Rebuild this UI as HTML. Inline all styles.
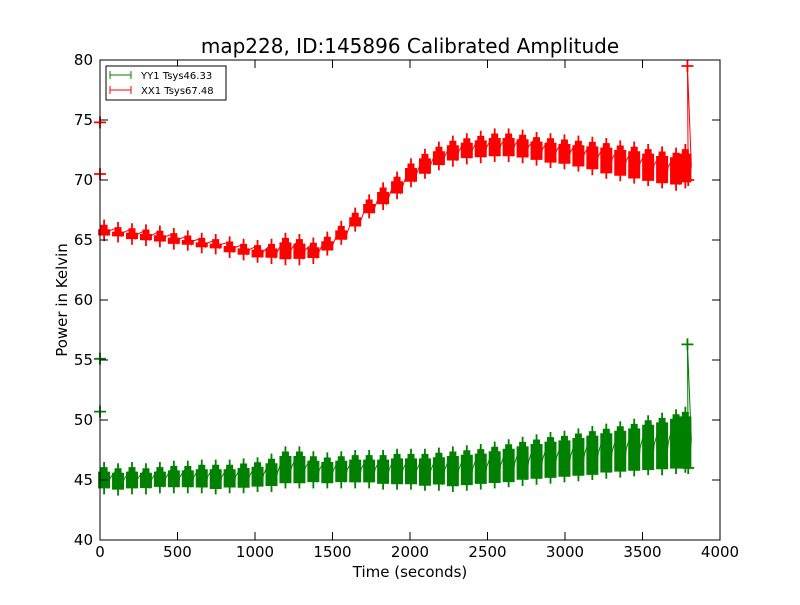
<!DOCTYPE html>
<html><head><meta charset="utf-8"><style>
body{margin:0;background:#fff;}
svg text{font-family:"DejaVu Sans","Liberation Sans",sans-serif;}
</style></head><body>
<svg id="c" width="800" height="600" xmlns="http://www.w3.org/2000/svg">
<rect width="800" height="600" fill="#fff"/>
<text x="410" y="53" font-size="20" text-anchor="middle">map228, ID:145896 Calibrated Amplitude</text>
<g id="plot"></g>
<rect x="100" y="60" width="620" height="480" fill="none" stroke="#000" stroke-width="1"/>
<g id="ticks"></g>
<text x="410" y="577" font-size="15" text-anchor="middle">Time (seconds)</text>
<text transform="translate(67,300) rotate(-90)" font-size="15" text-anchor="middle">Power in Kelvin</text>
<g>
<rect x="106" y="66" width="120" height="34" fill="#fff" stroke="#000" stroke-width="1"/>
<g>
<line x1="110" y1="75" x2="131" y2="75" stroke="#008000"/><line x1="110" y1="71" x2="110" y2="79" stroke="#008000"/><line x1="131" y1="71" x2="131" y2="79" stroke="#008000"/>
<text x="141" y="79" font-size="10">YY1 Tsys46.33</text></g>
<g>
<line x1="110" y1="90" x2="131" y2="90" stroke="#f00"/><line x1="110" y1="86" x2="110" y2="94" stroke="#f00"/><line x1="131" y1="86" x2="131" y2="94" stroke="#f00"/>
<text x="141" y="94" font-size="10">XX1 Tsys67.48</text></g>
</g>
</svg>
<script>
const xTicks=[0,500,1000,1500,2000,2500,3000,3500,4000];
const yTicks=[40,45,50,55,60,65,70,75,80];
const times=[20,110,200,290,380,470,560,650,740,830,920,1010,1100,1190,1280,1370,1460,1550,1640,1730,1820,1910,2000,2090,2180,2270,2360,2450,2540,2630,2720,2810,2900,2990,3080,3170,3260,3350,3440,3530,3620,3710,3770];
const redHi=[66.2,66.0,65.9,65.8,65.7,65.5,65.3,65.1,65.0,64.8,64.6,64.5,64.6,65.1,65.0,64.7,65.2,66.1,67.2,68.3,69.3,70.2,71.3,72.1,72.7,73.2,73.4,73.6,73.8,73.8,73.7,73.5,73.4,73.3,73.2,73.1,73.0,72.8,72.7,72.5,72.3,72.2,72.5];
const redLo=[65.4,65.3,65.1,65.0,64.9,64.7,64.6,64.4,64.3,64.0,63.8,63.6,63.5,63.4,63.4,63.5,64.2,65.1,66.2,67.3,68.0,68.9,69.9,70.6,71.3,71.6,71.8,71.9,72.0,72.0,71.9,71.7,71.5,71.4,71.2,70.9,70.6,70.4,70.2,70.0,69.8,69.6,69.8];
const greenHi=[46.0,45.9,46.0,45.9,46.0,46.1,46.1,46.2,46.2,46.2,46.3,46.4,46.7,47.3,47.3,46.9,46.8,46.9,47.0,47.0,47.0,47.1,47.1,47.1,47.2,47.3,47.4,47.5,47.7,47.9,48.1,48.3,48.5,48.6,48.8,49.0,49.2,49.4,49.6,49.9,50.1,50.4,50.6];
const greenLo=[44.3,44.2,44.3,44.3,44.4,44.4,44.4,44.4,44.3,44.4,44.4,44.5,44.5,44.8,44.8,44.8,44.8,44.8,44.8,44.8,44.7,44.7,44.7,44.6,44.6,44.5,44.6,44.7,44.8,44.9,45.0,45.1,45.2,45.3,45.4,45.5,45.6,45.7,45.8,45.9,45.9,46.0,46.1];
const redExtra=[[0,74.8],[0,70.5],[3790,79.5],[3795,70.0]];
const greenExtra=[[0,55.1],[0,50.7],[3790,56.3],[3795,46.0]];
const NS="http://www.w3.org/2000/svg";
const X=t=>100+t/4000*620, Y=v=>540-(v-40)/40*480;
const plot=document.getElementById('plot'), ticks=document.getElementById('ticks');
function mk(tag,attrs,parent){const e=document.createElementNS(NS,tag);for(const k in attrs)e.setAttribute(k,attrs[k]);parent.appendChild(e);return e;}
xTicks.forEach(t=>{const x=X(t);
 mk('line',{x1:x,y1:540,x2:x,y2:532,stroke:'#000'},ticks);mk('line',{x1:x,y1:60,x2:x,y2:68,stroke:'#000'},ticks);
 const tx=mk('text',{x:x,y:557,'font-size':15,'text-anchor':'middle'},ticks);tx.textContent=t;
 
 });
yTicks.forEach(v=>{const y=Y(v);
 mk('line',{x1:100,y1:y,x2:108,y2:y,stroke:'#000'},ticks);mk('line',{x1:720,y1:y,x2:712,y2:y,stroke:'#000'},ticks);
 const tx=mk('text',{x:93,y:y+5,'font-size':15,'text-anchor':'end'},ticks);tx.textContent=v;
 
 });
function series(hi,lo,extra,color,name){
 const g=mk('g',{},plot);
 
 
 const pts=[];
 times.forEach((t,i)=>{pts.push([t,hi[i]]);pts.push([t+30,lo[i]]);pts.push([t+45,(hi[i]+lo[i])/2]);});
 extra.slice(2).forEach(p=>pts.push(p));
 mk('polyline',{points:pts.map(p=>X(p[0])+','+Y(p[1])).join(' '),fill:'none',stroke:color,'stroke-width':1},g);
 let d='';
 times.forEach((t,i)=>{const x=X(t)+1,y1=Y(hi[i]),y2=Y(lo[i]);
  d+=`M${x},${y1-6}V${y2+6}`;
  for(let y=y1;y<=y2+0.01;y+=1.5){const w=(y-y1)<4?3.5:6;d+=`M${x-w},${y}h${2*w}`;}
 });
 extra.forEach(p=>{const x=X(p[0]),y=Y(p[1]);d+=`M${x-6},${y}h12M${x},${y-6}v12`;});
 mk('path',{d:d,stroke:color,'stroke-width':1.8,fill:'none'},g);
}
series(greenHi,greenLo,greenExtra,'#008000','series-yy1');
series(redHi,redLo,redExtra,'#ff0000','series-xx1');
</script>
</body></html>
